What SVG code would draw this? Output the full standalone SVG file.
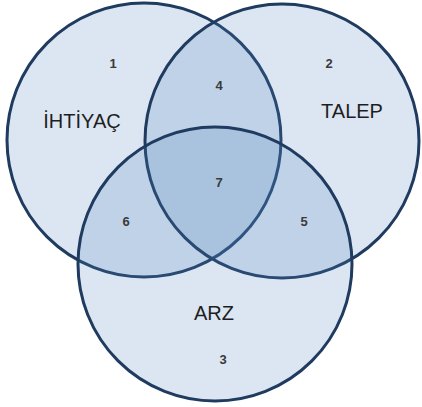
<svg xmlns="http://www.w3.org/2000/svg" width="422" height="407" viewBox="0 0 422 407">
  <style>
    .set { fill: #4f81bd; fill-opacity: 0.2; stroke: #1f3b5f; stroke-width: 3; }
    .name { font-family: "Liberation Sans", Arial, sans-serif; font-size: 20px; fill: #1e1e1e; text-anchor: middle; }
    .num { font-family: "Liberation Sans", Arial, sans-serif; font-size: 13px; font-weight: bold; fill: #3a3a3a; text-anchor: middle; }
  </style>
  <rect width="422" height="407" fill="#ffffff"/>
  <g id="ihtiyac">
    <circle class="set" cx="144" cy="140" r="137"/>
    <text class="name" x="82" y="128">İHTİYAÇ</text>
  </g>
  <g id="talep">
    <circle class="set" cx="282" cy="141" r="137"/>
    <text class="name" x="352" y="118">TALEP</text>
  </g>
  <g id="arz">
    <circle class="set" cx="215" cy="264" r="137"/>
    <text class="name" x="214" y="320">ARZ</text>
  </g>
  <g id="region-numbers">
    <text class="num" x="113" y="68">1</text>
    <text class="num" x="329" y="68">2</text>
    <text class="num" x="223" y="364">3</text>
    <text class="num" x="219" y="90">4</text>
    <text class="num" x="304" y="226">5</text>
    <text class="num" x="126" y="226">6</text>
    <text class="num" x="219" y="187">7</text>
  </g>
</svg>
